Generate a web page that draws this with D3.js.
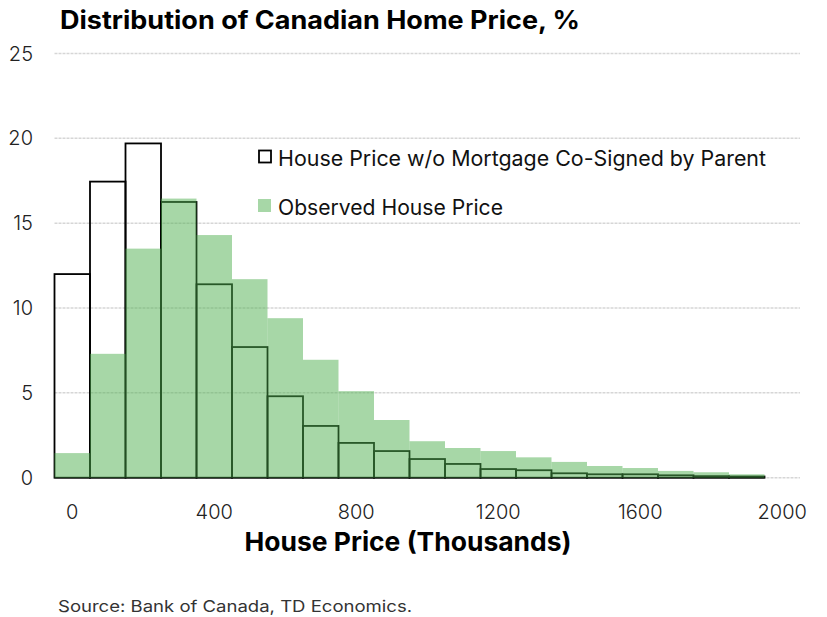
<!DOCTYPE html>
<html><head><meta charset="utf-8">
<script src="https://cdn.jsdelivr.net/npm/d3@7"></script>
<style>body{margin:0;background:#fff;} svg{display:block;}</style>
</head><body>
<svg id="c" width="827" height="617"></svg>
<script>
const binCenters = [0,100,200,300,400,500,600,700,800,900,1000,1100,1200,1300,1400,1500,1600,1700,1800,1900];
const observed = [1.45,7.3,13.5,16.45,14.3,11.7,9.4,6.95,5.1,3.4,2.15,1.75,1.57,1.2,0.93,0.69,0.57,0.4,0.32,0.2];
const withoutCoSign = [12.0,17.45,19.7,16.25,11.4,7.7,4.8,3.05,2.05,1.57,1.1,0.81,0.51,0.44,0.26,0.2,0.2,0.14,0.09,0.07];
const yTicks = [0,5,10,15,20,25];
const xTicks = [0,400,800,1200,1600,2000];
const binWidth = 100;

const svg = d3.select('#c');
const x = d3.scaleLinear().domain([-50,2050]).range([54.5,800]);
const y = d3.scaleLinear().domain([0,25]).range([477.7,53.5]);
const font = "Inter, 'Open Sans', sans-serif";

svg.append('text').attr('x',60).attr('y',29).attr('font-family',font).attr('font-weight',700)
  .attr('font-size',25).attr('fill','#000').attr('textLength',520).attr('lengthAdjust','spacingAndGlyphs')
  .text('Distribution of Canadian Home Price, %');

// gridlines
svg.append('g').selectAll('line').data(yTicks).join('line')
  .attr('x1',x(-50)).attr('x2',x(2050)).attr('y1',d=>y(d)).attr('y2',d=>y(d))
  .attr('stroke','#d6d6d6').attr('stroke-width',1.5).attr('stroke-dasharray','3,1');

// y labels
svg.append('g').selectAll('text').data(yTicks).join('text')
  .attr('x',33).attr('y',d=>y(d)+7).attr('text-anchor','end')
  .attr('font-family',font).attr('font-size',20).attr('font-weight',300).attr('fill','#222').text(d=>d);

// baseline
svg.append('line').attr('x1',x(-50)).attr('x2',x(1950)).attr('y1',y(0)+0.5).attr('y2',y(0)+0.5)
  .attr('stroke','#b0b0b0').attr('stroke-width',1.5);

// outline series
svg.append('g').selectAll('rect').data(binCenters).join('rect')
  .attr('x',d=>x(d-binWidth/2)).attr('width',d=>x(d+binWidth/2)-x(d-binWidth/2))
  .attr('y',(d,i)=>y(withoutCoSign[i])).attr('height',(d,i)=>y(0)-y(withoutCoSign[i]))
  .attr('fill','none').attr('stroke','#000').attr('stroke-width',1.8);

// observed (semi-transparent on top)
svg.append('g').selectAll('rect').data(binCenters).join('rect')
  .attr('x',d=>x(d-binWidth/2)).attr('width',d=>x(d+binWidth/2)-x(d-binWidth/2))
  .attr('y',(d,i)=>y(observed[i])).attr('height',(d,i)=>y(0)-y(observed[i]))
  .attr('fill','rgb(80,175,80)').attr('fill-opacity',0.5);

// x labels
svg.append('g').selectAll('text').data(xTicks).join('text')
  .attr('x',d=>x(d)).attr('y',519).attr('text-anchor','middle')
  .attr('font-family',font).attr('font-size',20).attr('font-weight',300).attr('fill','#222').text(d=>d);

svg.append('text').attr('x',408).attr('y',551).attr('text-anchor','middle')
  .attr('font-family',font).attr('font-weight',700).attr('font-size',26).attr('fill','#000')
  .attr('textLength',327).attr('lengthAdjust','spacingAndGlyphs')
  .text('House Price (Thousands)');

// legend
const lg = svg.append('g');
lg.append('rect').attr('x',259).attr('y',150.5).attr('width',12).attr('height',12)
  .attr('fill','none').attr('stroke','#000').attr('stroke-width',1.8);
lg.append('text').attr('x',278).attr('y',166).attr('font-family',font).attr('font-size',21).attr('fill','#111')
  .attr('textLength',488).attr('lengthAdjust','spacingAndGlyphs')
  .text('House Price w/o Mortgage Co-Signed by Parent');
lg.append('rect').attr('x',258).attr('y',199).attr('width',13).attr('height',13)
  .attr('fill','rgb(80,175,80)').attr('fill-opacity',0.5);
lg.append('text').attr('x',278).attr('y',215).attr('font-family',font).attr('font-size',21).attr('fill','#111')
  .attr('textLength',225).attr('lengthAdjust','spacingAndGlyphs')
  .text('Observed House Price');

svg.append('text').attr('x',58).attr('y',612).attr('font-family',font).attr('font-size',16).attr('fill','#333')
  .attr('textLength',354).attr('lengthAdjust','spacingAndGlyphs')
  .text('Source: Bank of Canada, TD Economics.');
</script>
</body></html>
